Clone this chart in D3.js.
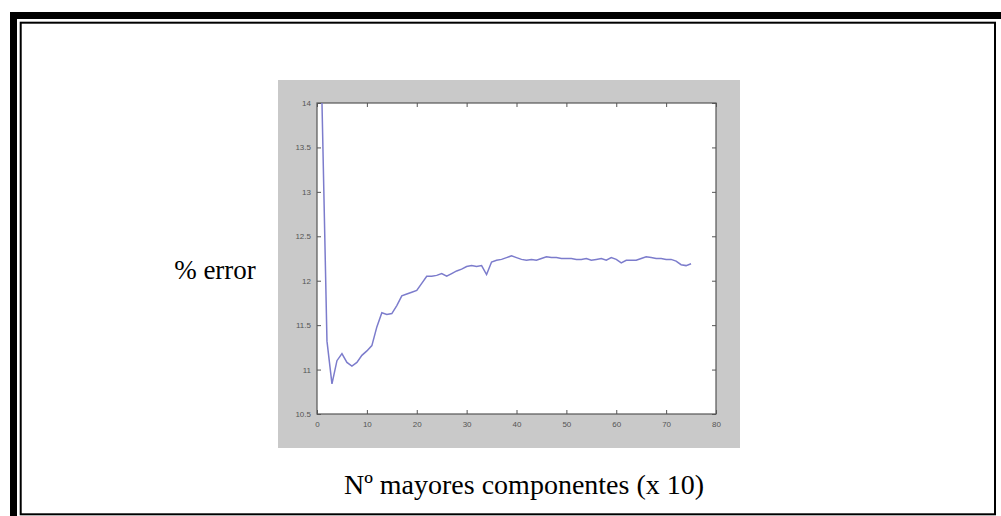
<!DOCTYPE html>
<html lang="en">
<meta charset="utf-8">
<head>
    <script src='https://d3js.org/d3.v7.min.js'></script>
    <style>
        body { margin: 0; background: #fff; }
    </style>
</head>
<body>
<script>
// x = number of major components (x 10), values = % error
const xValues = d3.range(1, 76);
const errorValues = [
    14.0, 11.32, 10.84, 11.1, 11.18, 11.08, 11.04, 11.08, 11.16, 11.21,
    11.27, 11.48, 11.64, 11.62, 11.63, 11.72, 11.83, 11.85, 11.87, 11.89,
    11.97, 12.05, 12.05, 12.06, 12.08, 12.05, 12.08, 12.11, 12.13, 12.16,
    12.17, 12.16, 12.17, 12.07, 12.21, 12.23, 12.24, 12.26, 12.28, 12.26,
    12.24, 12.23, 12.24, 12.23, 12.25, 12.27, 12.26, 12.26, 12.25, 12.25,
    12.25, 12.24, 12.24, 12.25, 12.23, 12.24, 12.25, 12.23, 12.26, 12.24,
    12.2, 12.23, 12.23, 12.23, 12.25, 12.27, 12.26, 12.25, 12.25, 12.24,
    12.24, 12.22, 12.18, 12.17, 12.19
];
const xTicks = [0, 10, 20, 30, 40, 50, 60, 70, 80];
const yTicks = [10.5, 11, 11.5, 12, 12.5, 13, 13.5, 14];

const W = 1001, H = 516;
const svg = d3.select('body').append('svg')
    .attr('width', W)
    .attr('height', H);

// double page frame
svg.append('rect')
    .attr('x', 13.5).attr('y', 15.5)
    .attr('width', 1000).attr('height', 600)
    .attr('fill', 'none').attr('stroke', '#000').attr('stroke-width', 7);
svg.append('rect')
    .attr('x', 20.7).attr('y', 22.7)
    .attr('width', 995 - 20.7).attr('height', 514.3 - 22.7)
    .attr('fill', 'none').attr('stroke', '#000').attr('stroke-width', 2);

// grey figure window
svg.append('rect')
    .attr('x', 278).attr('y', 80)
    .attr('width', 462).attr('height', 368)
    .attr('fill', '#c9c9c9');

const plot = {left: 317, top: 103, right: 716, bottom: 414};

const x = d3.scaleLinear().domain([0, 80]).range([plot.left, plot.right]);
const y = d3.scaleLinear().domain([10.5, 14]).range([plot.bottom, plot.top]);

svg.append('rect')
    .attr('x', plot.left).attr('y', plot.top)
    .attr('width', plot.right - plot.left)
    .attr('height', plot.bottom - plot.top)
    .attr('fill', '#fff')
    .attr('stroke', '#555').attr('stroke-width', 1.2);

// matlab style axes, ticks pointing inwards
function styleAxis(g) {
    g.select('.domain').remove();
    g.selectAll('.tick line').attr('stroke', '#555');
    g.selectAll('.tick text')
        .attr('fill', '#555')
        .style('font-family', 'Arial, sans-serif')
        .style('font-size', '8px');
}

svg.append('g')
    .attr('transform', 'translate(0,' + plot.bottom + ')')
    .call(d3.axisBottom(x).tickValues(xTicks).tickSize(-4).tickPadding(7).tickFormat(d => d))
    .call(styleAxis);
svg.append('g')
    .attr('transform', 'translate(0,' + plot.top + ')')
    .call(d3.axisTop(x).tickValues(xTicks).tickSize(-4).tickFormat(''))
    .call(styleAxis);
svg.append('g')
    .attr('transform', 'translate(' + plot.left + ',0)')
    .call(d3.axisLeft(y).tickValues(yTicks).tickSize(-4).tickPadding(6).tickFormat(d => d))
    .call(styleAxis);
svg.append('g')
    .attr('transform', 'translate(' + plot.right + ',0)')
    .call(d3.axisRight(y).tickValues(yTicks).tickSize(-4).tickFormat(''))
    .call(styleAxis);

const data = xValues.map((v, i) => ({x: v, y: errorValues[i]}));
svg.append('path')
    .datum(data)
    .attr('fill', 'none')
    .attr('stroke', '#7c7ccc')
    .attr('stroke-width', 1.5)
    .attr('d', d3.line()
        .x(d => x(d.x))
        .y(d => y(d.y)));

// labels
svg.append('text')
    .attr('x', 215).attr('y', 279)
    .attr('text-anchor', 'middle')
    .style('font-family', '"Liberation Serif", "Times New Roman", serif')
    .style('font-size', '27px')
    .text('% error');

svg.append('text')
    .attr('x', 524).attr('y', 494)
    .attr('text-anchor', 'middle')
    .style('font-family', '"Liberation Serif", "Times New Roman", serif')
    .style('font-size', '28px')
    .text('Nº mayores componentes (x 10)');
</script>
</body>
</html>
